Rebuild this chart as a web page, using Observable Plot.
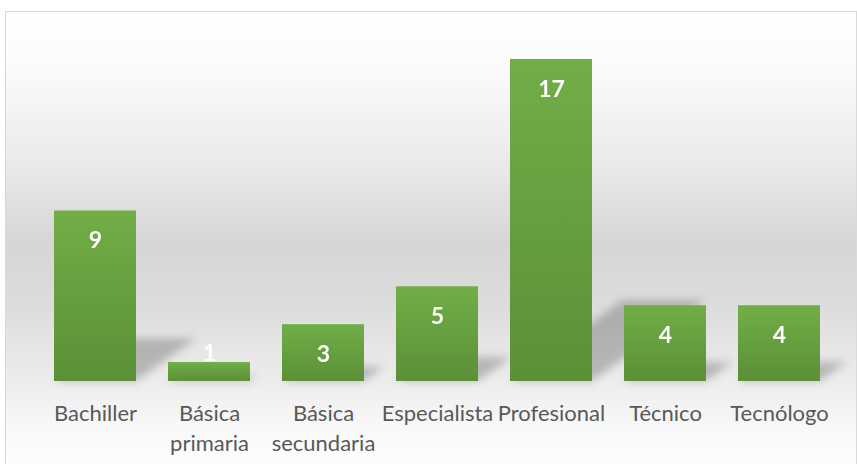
<!DOCTYPE html>
<html>
<head>
<meta charset="utf-8">
<script src="https://cdn.jsdelivr.net/npm/d3@7"></script>
<script src="https://cdn.jsdelivr.net/npm/@observablehq/plot@0.6"></script>
<style>
  html, body { margin: 0; padding: 0; background: #ffffff; }
  #wrap { position: relative; width: 857px; height: 464px; overflow: hidden; }
  #bg {
    position: absolute; left: 5px; top: 11px; width: 850px; height: 470px;
    border: 1px solid #d9d9d9;
    background: linear-gradient(to bottom, #ffffff 0%, #fcfcfc 10%, #ececec 30%, #d6d6d6 49%, #dcdcdc 62%, #ececec 78%, #f8f8f8 88%, #ffffff 100%);
  }
  #chart { position: absolute; left: 0; top: 0; }
</style>
</head>
<body>
<div id="wrap">
  <div id="bg"></div>
  <div id="chart"></div>
</div>
<script>
const categories = ["Bachiller", "Básica primaria", "Básica secundaria", "Especialista", "Profesional", "Técnico", "Tecnólogo"];
const values = [9, 1, 3, 5, 17, 4, 4];
const tickLabels = ["Bachiller", "Básica\nprimaria", "Básica\nsecundaria", "Especialista", "Profesional", "Técnico", "Tecnólogo"];

const data = categories.map((c, i) => ({cat: c, value: values[i]}));

const plot = Plot.plot({
  width: 857,
  height: 464,
  marginTop: 40,
  marginBottom: 83,
  marginLeft: 22,
  marginRight: 5,
  x: {domain: categories, padding: 0.28, label: null},
  y: {domain: [0, 18], axis: null},
  style: {background: "transparent", fontFamily: "Lato, 'Open Sans', sans-serif", overflow: "visible"},
  marks: [
    Plot.barY(data, {x: "cat", y: "value", fill: "#000000", fillOpacity: 0.22, className: "shadow"}),
    Plot.barY(data, {x: "cat", y: "value", fill: "url(#barGrad)"}),
    Plot.text(data.filter(d => d.value >= 2), {x: "cat", y: "value", text: d => String(d.value), dy: 30, fill: "white", fontWeight: "bold", fontSize: 23}),
    Plot.text(data.filter(d => d.value < 2), {x: "cat", y: "value", text: d => String(d.value), dy: -9, fill: "white", fontWeight: "bold", fontSize: 23}),
    Plot.axisX({
      tickSize: 0, tickPadding: 18, fontSize: 22, lineHeight: 1.36,
      fill: "#595959", label: null,
      tickFormat: d => tickLabels[categories.indexOf(d)]
    })
  ]
});

const svg = d3.select(plot);
const defs = svg.insert("defs", ":first-child");
const grad = defs.append("linearGradient").attr("id", "barGrad")
  .attr("x1", 0).attr("y1", 0).attr("x2", 0).attr("y2", 1);
grad.append("stop").attr("offset", "0%").attr("stop-color", "#71ae47");
grad.append("stop").attr("offset", "100%").attr("stop-color", "#5b9037");
const filt = defs.append("filter").attr("id", "shadowBlur")
  .attr("x", "-20%").attr("y", "-20%").attr("width", "140%").attr("height", "140%");
filt.append("feGaussianBlur").attr("stdDeviation", 4);

const y0 = plot.scale("y").apply(0);
const k = 0.35, s = 0.25;
svg.selectAll("g.shadow").attr("filter", "url(#shadowBlur)");
svg.selectAll("g.shadow rect")
  .attr("transform", `matrix(1,0,${-k},${s},${k * y0},${y0 * (1 - s)})`);

document.getElementById("chart").appendChild(plot);
</script>
</body>
</html>
